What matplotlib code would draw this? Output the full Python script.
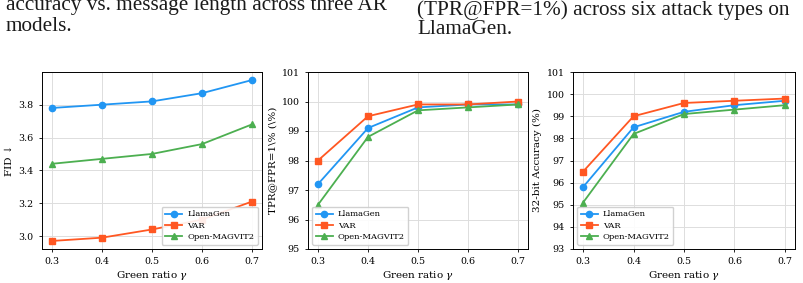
import matplotlib
matplotlib.use("Agg")
import matplotlib.pyplot as plt

gamma = [0.3, 0.4, 0.5, 0.6, 0.7]
models = ["LlamaGen", "VAR", "Open-MAGVIT2"]

fid_llamagen = [3.78, 3.80, 3.82, 3.87, 3.95]
fid_var = [2.97, 2.99, 3.04, 3.10, 3.21]
fid_magvit = [3.44, 3.47, 3.50, 3.56, 3.68]

tpr_llamagen = [97.2, 99.1, 99.8, 99.9, 99.9]
tpr_var = [98.0, 99.5, 99.9, 99.9, 100.0]
tpr_magvit = [96.5, 98.8, 99.7, 99.8, 99.9]

acc_llamagen = [95.8, 98.5, 99.2, 99.5, 99.7]
acc_var = [96.5, 99.0, 99.6, 99.7, 99.8]
acc_magvit = [95.1, 98.2, 99.1, 99.3, 99.5]

colors = ["#2196F3", "#FF5722", "#4CAF50"]
markers = ["o", "s", "^"]

plt.rcParams["font.family"] = ["DejaVu Serif", "DejaVu Sans"]
plt.rcParams["mathtext.fontset"] = "dejavuserif"

fig = plt.figure(figsize=(8.04, 2.83), dpi=100)

W, H = 804, 283
def add_ax(x0, x1, y0, y1):
    return fig.add_axes([x0 / W, 1 - y1 / H, (x1 - x0) / W, (y1 - y0) / H])

axes = [add_ax(42, 262, 72, 249), add_ax(308, 528, 72, 249), add_ax(573, 795, 72, 249)]

data = [
    [fid_llamagen, fid_var, fid_magvit],
    [tpr_llamagen, tpr_var, tpr_magvit],
    [acc_llamagen, acc_var, acc_magvit],
]
ylabels = ["FID \u2193", r"TPR@FPR=1\% (\%)", "32-bit Accuracy (%)"]
legend_locs = ["lower right", "lower left", "lower left"]

for i, ax in enumerate(axes):
    for name, vals, c, m in zip(models, data[i], colors, markers):
        ax.plot(gamma, vals, color=c, marker=m, markersize=4.5, linewidth=1.3, label=name)
    ax.set_xticks(gamma)
    ax.grid(True, color="#dddddd", linewidth=0.7)
    ax.set_axisbelow(True)
    ax.tick_params(labelsize=6.8, length=2.5, width=0.6)
    ax.set_xlabel(r"Green ratio $\gamma$", fontsize=7.5, labelpad=2)
    ax.set_ylabel(ylabels[i], fontsize=7.5, labelpad=3)
    for s in ax.spines.values():
        s.set_linewidth(0.7)
    ax.legend(loc=legend_locs[i], fontsize=6.0, handlelength=2.0, handletextpad=0.6,
              borderpad=0.45, labelspacing=0.4, framealpha=0.9)

axes[0].set_yticks([3.0, 3.2, 3.4, 3.6, 3.8])
axes[1].set_ylim(95, 101)
axes[1].set_yticks([95, 96, 97, 98, 99, 100, 101])
axes[2].set_ylim(93, 101)
axes[2].set_yticks([93, 94, 95, 96, 97, 98, 99, 100, 101])

cap_font = dict(family="Liberation Serif", fontsize=15.3, color="#1a1a1a", va="baseline")
fig.text(6 / W, 1 - 10 / H, "accuracy vs. message length across three AR", **cap_font)
fig.text(6 / W, 1 - 31 / H, "models.", **cap_font)
fig.text(417 / W, 1 - 15 / H, "(TPR@FPR=1%) across six attack types on", **cap_font)
fig.text(417 / W, 1 - 34 / H, "LlamaGen.", **cap_font)

fig.savefig("out.png", dpi=100)
